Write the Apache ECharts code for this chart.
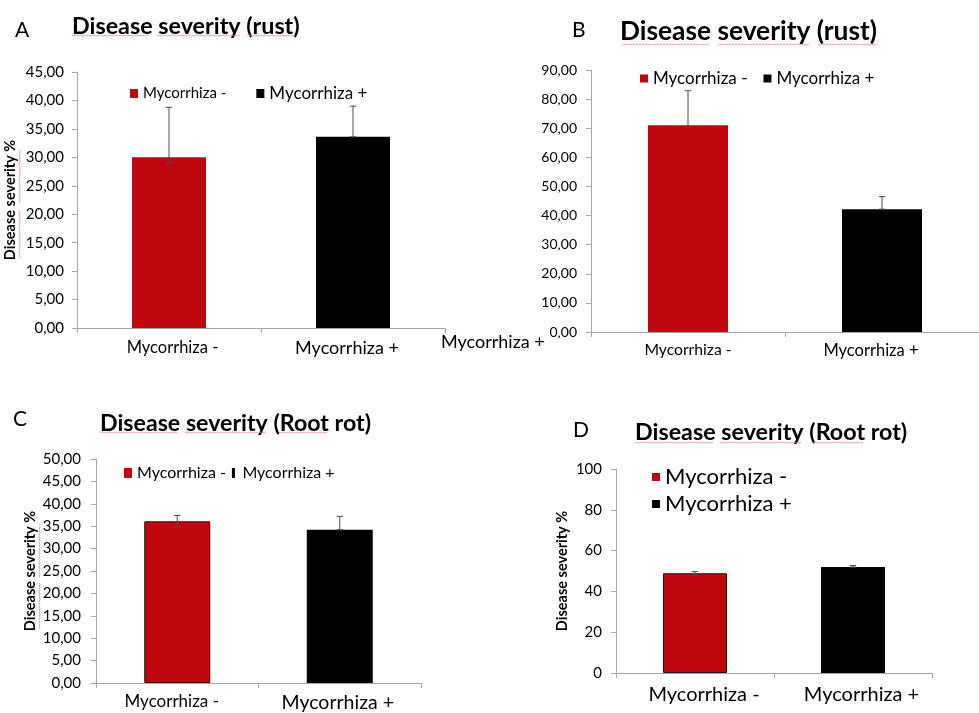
<!DOCTYPE html>
<html>
<head>
<meta charset="utf-8">
<script src="https://cdn.jsdelivr.net/npm/echarts@6/dist/echarts.min.js"></script>
<style>
html,body{margin:0;padding:0;background:#fff;}
#chart{width:979px;height:713px;}
</style>
</head>
<body>
<div id="chart"></div>
<script>
// ---- data ----
const categories = ['Mycorrhiza -', 'Mycorrhiza +'];
const seriesNames = ['Mycorrhiza -', 'Mycorrhiza +'];

// Panel A: rust
const valuesA = [30.0, 33.6];
const errLowA = [29.0, 33.6];
const errHighA = [38.8, 39.0];
// Panel B: rust
const valuesB = [71.0, 42.2];
const errLowB = [70.2, 42.2];
const errHighB = [82.9, 46.5];
// Panel C: root rot
const valuesC = [36.1, 34.2];
const errLowC = [34.8, 34.2];
const errHighC = [37.4, 37.2];
// Panel D: root rot
const valuesD = [48.9, 51.9];
const errLowD = [48.1, 51.9];
const errHighD = [49.7, 52.7];

const titles = ['Disease severity (rust)', 'Disease severity (rust)', 'Disease severity (Root rot)', 'Disease severity (Root rot)'];
const panelLetters = ['A', 'B', 'C', 'D'];
const yAxisName = 'Disease severity %';
const yMax = [45, 90, 50, 100];
const yInterval = [5, 10, 5, 20];
const strayLabel = 'Mycorrhiza +';

// ---- styling ----
const FONT = 'Lato, "Open Sans", sans-serif';
const RED = '#C0060E';
const BLACK = '#000000';
const AXIS = '#a6a6a6';

const panels = [
  {vals: valuesA, lo: errLowA, hi: errHighA, grid: {left: 77, top: 72, width: 368, height: 256}, barWidth: 74,
   yFont: 15, yMargin: 13, xFonts: [16.5, 18], xPads: [[0, 0, 0, 7], [0, 12, 0, 0]], xMargin: 11,
   yName: true, nameGap: 59, border: 0, decimals: 2},
  {vals: valuesB, lo: errLowB, hi: errHighB, grid: {left: 591, top: 70, width: 400, height: 262}, barWidth: 80,
   yFont: 14, yMargin: 14, xFonts: [15.7, 16.5], xPads: [[0, 0, 0, 0], [0, 22, 0, 0]], xMargin: 10,
   yName: false, nameGap: 0, border: 0, decimals: 2},
  {vals: valuesC, lo: errLowC, hi: errHighC, grid: {left: 96, top: 459, width: 325, height: 227}, barWidth: 66,
   yFont: 15, yMargin: 15, xFonts: [17, 19.5], xPads: [[0, 11, 0, 0], [0, 4, 0, 0]], xMargin: 10,
   yName: true, nameGap: 58, border: 1, decimals: 2},
  {vals: valuesD, lo: errLowD, hi: errHighD, grid: {left: 616, top: 469, width: 316, height: 204}, barWidth: 64,
   yFont: 15, yMargin: 14, xFonts: [20, 20], xPads: [[0, 0, 0, 18], [0, 0, 0, 17]], xMargin: 12,
   yName: true, nameGap: 46, border: 1, decimals: 0}
];

const grid = [], xAxis = [], yAxis = [], series = [];
panels.forEach((p, i) => {
  grid.push(Object.assign({containLabel: false}, p.grid));
  xAxis.push({
    type: 'category', gridIndex: i,
    data: categories.map((c, k) => ({value: c, textStyle: {fontSize: p.xFonts[k], padding: p.xPads[k]}})),
    axisLine: {lineStyle: {color: AXIS, width: 1}},
    axisTick: {show: true, length: 5, lineStyle: {color: AXIS}},
    axisLabel: {color: '#000', fontFamily: FONT, fontSize: p.xFonts[0], margin: p.xMargin},
    splitLine: {show: false}
  });
  yAxis.push({
    type: 'value', gridIndex: i, min: 0, max: yMax[i], interval: yInterval[i],
    name: p.yName ? yAxisName : '', nameLocation: 'middle', nameGap: p.nameGap, nameRotate: 90,
    nameTextStyle: {color: '#000', fontFamily: FONT, fontWeight: 'bold', fontSize: 14.5},
    axisLine: {show: true, lineStyle: {color: AXIS, width: 1}},
    axisTick: {show: true, length: 5, lineStyle: {color: AXIS}},
    axisLabel: {color: '#000', fontFamily: FONT, fontSize: p.yFont, margin: p.yMargin,
      formatter: v => p.decimals ? v.toFixed(p.decimals).replace('.', ',') : String(v)},
    splitLine: {show: false}
  });
  series.push({
    type: 'bar', name: seriesNames[0], xAxisIndex: i, yAxisIndex: i,
    data: [p.vals[0], '-'], barWidth: p.barWidth, barGap: '-100%',
    itemStyle: {color: RED, borderColor: p.border ? '#3a0a0a' : RED, borderWidth: p.border}
  });
  series.push({
    type: 'bar', name: seriesNames[1], xAxisIndex: i, yAxisIndex: i,
    data: ['-', p.vals[1]], barWidth: p.barWidth, barGap: '-100%',
    itemStyle: {color: BLACK}
  });
  series.push({
    type: 'custom', name: 'err' + i, xAxisIndex: i, yAxisIndex: i, z: 10,
    data: categories.map((c, k) => [k, p.lo[k], p.hi[k]]),
    encode: {x: 0, y: [1, 2]},
    renderItem: function (params, api) {
      const lo = api.coord([api.value(0), api.value(1)]);
      const hi = api.coord([api.value(0), api.value(2)]);
      const hw = 3.2;
      const st = {stroke: '#4d4d4d', lineWidth: 1};
      return {type: 'group', children: [
        {type: 'line', shape: {x1: lo[0], y1: lo[1], x2: hi[0], y2: hi[1]}, style: st},
        {type: 'line', shape: {x1: hi[0] - hw, y1: hi[1], x2: hi[0] + hw, y2: hi[1]}, style: st},
        {type: 'line', shape: {x1: lo[0] - hw, y1: lo[1], x2: lo[0] + hw, y2: lo[1]}, style: st}
      ]};
    },
    silent: true, tooltip: {show: false}
  });
});

const legend = [
  {left: 130, top: 85, padding: 0, itemWidth: 8, itemHeight: 9, itemGap: 30, icon: 'rect',
   data: [{name: seriesNames[0], textStyle: {fontSize: 15}}, {name: seriesNames[1], textStyle: {fontSize: 17}}],
   textStyle: {color: '#000', fontFamily: FONT}},
  {left: 640, top: 70, padding: 0, itemWidth: 8, itemHeight: 8, itemGap: 16, icon: 'rect',
   data: seriesNames, textStyle: {color: '#000', fontFamily: FONT, fontSize: 17}},
  {left: 124, top: 465, padding: 0, itemWidth: 8, itemHeight: 10, itemGap: 6,
   data: [{name: seriesNames[0], icon: 'rect'}, {name: seriesNames[1], icon: 'path://M0,0H3V10H0Z'}],
   textStyle: {color: '#000', fontFamily: FONT, fontSize: 16}},
  {left: 652, top: 466, padding: 0, orient: 'vertical', itemWidth: 8, itemHeight: 8, itemGap: 5, icon: 'rect',
   data: seriesNames, textStyle: {color: '#000', fontFamily: FONT, fontSize: 22}}
];

const TS = (size, weight) => ({fontFamily: FONT, fontWeight: weight, fontSize: size, color: '#000'});
const title = [
  {text: titles[0], left: 72, top: 15, padding: 0, textStyle: TS(23.3, 'bold')},
  {text: titles[1], left: 620, top: 19, padding: 0, textStyle: TS(26.3, 'bold')},
  {text: titles[2], left: 100, top: 412, padding: 0, textStyle: TS(23.2, 'bold')},
  {text: titles[3], left: 635, top: 421, padding: 0, textStyle: TS(23.3, 'bold')},
  {text: panelLetters[0], left: 15, top: 20, padding: 0, textStyle: TS(21, 'normal')},
  {text: panelLetters[1], left: 572, top: 20, padding: 0, textStyle: TS(21, 'normal')},
  {text: panelLetters[2], left: 13, top: 409, padding: 0, textStyle: TS(21, 'normal')},
  {text: panelLetters[3], left: 573, top: 420, padding: 0, textStyle: TS(21, 'normal')}
];

// spell-check style wavy underlines (decoration)
function squiggleH(x1, x2, y) {
  const pts = [];
  for (let x = x1, k = 0; x <= x2; x += 1.5, k++) pts.push([x, y + (k % 2 ? 1 : 0)]);
  return {type: 'polyline', silent: true, z: 20, shape: {points: pts}, style: {stroke: '#e3888c', lineWidth: 0.8, fill: null}};
}
function squiggleV(x, y1, y2) {
  const pts = [];
  for (let y = y1, k = 0; y <= y2; y += 1.5, k++) pts.push([x + (k % 2 ? 1 : 0), y]);
  return {type: 'polyline', silent: true, z: 20, shape: {points: pts}, style: {stroke: '#e3888c', lineWidth: 0.8, fill: null}};
}
const underlines = [
  squiggleH(72, 149, 35), squiggleH(157, 240, 35), squiggleH(247, 295, 35),
  squiggleH(622, 710, 44), squiggleH(718, 810, 44), squiggleH(818, 877, 44),
  squiggleH(100, 178, 432), squiggleH(185, 267, 432), squiggleH(279, 328, 432),
  squiggleH(635, 713, 442), squiggleH(720, 802, 442), squiggleH(812, 863, 442),
  squiggleV(19, 150, 203), squiggleV(19, 210, 258),
  squiggleV(39, 525, 578), squiggleV(39, 583, 630)
];

const chart = echarts.init(document.getElementById('chart'), null, {renderer: 'canvas'});
chart.setOption({
  backgroundColor: '#fff',
  animation: false,
  title, legend, grid, xAxis, yAxis, series,
  graphic: [
    {type: 'text', left: 441, top: 333, style: {text: strayLabel, fill: '#000', font: '18px ' + FONT}}
  ].concat(underlines)
});
</script>
</body>
</html>
